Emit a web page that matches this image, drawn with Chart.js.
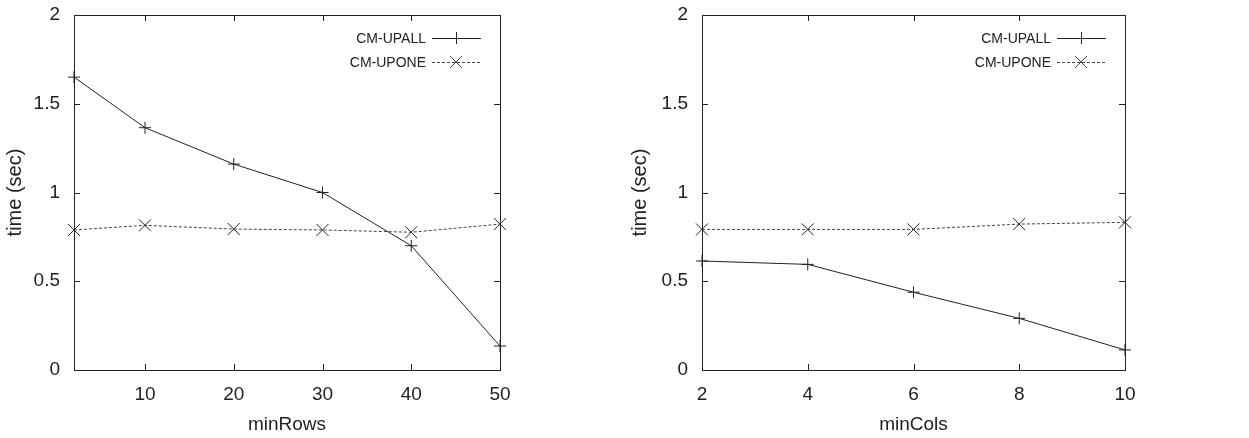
<!DOCTYPE html>
<html>
<head>
<meta charset="utf-8">
<script src="https://cdn.jsdelivr.net/npm/chart.js@4/dist/chart.umd.min.js"></script>
<style>
  body { margin: 0; background: #fff; }
  #wrap { position: relative; width: 1249px; height: 438px; }
  canvas { position: absolute; top: 0; }
</style>
</head>
<body>
<div id="wrap">
  <canvas id="rowsChart" width="620" height="438" style="left:0"></canvas>
  <canvas id="colsChart" width="624" height="438" style="left:625px"></canvas>
</div>
<script>
// data
const seriesNames = ["CM-UPALL", "CM-UPONE"];
const yTicks = [0, 0.5, 1, 1.5, 2];

const rowsX = [2, 10, 20, 30, 40, 50];
const rowsTicks = [10, 20, 30, 40, 50];
const rowsUpAll = [1.65, 1.365, 1.16, 1.0, 0.70, 0.135];
const rowsUpOne = [0.789, 0.815, 0.794, 0.789, 0.776, 0.822];

const colsX = [2, 4, 6, 8, 10];
const colsTicks = [2, 4, 6, 8, 10];
const colsUpAll = [0.614, 0.595, 0.438, 0.291, 0.113];
const colsUpOne = [0.792, 0.792, 0.792, 0.822, 0.832];

const FONT = "'Liberation Sans', Arial, sans-serif";
const INK = "#222";

function pts(xs, ys) {
  return xs.map((x, i) => ({ x: x, y: ys[i] }));
}

// gnuplot-ish frame with inward mirror ticks + legend inside top right
const framePlugin = {
  id: "frame",
  afterDraw(chart) {
    const ctx = chart.ctx;
    const a = chart.chartArea;
    const xs = chart.scales.x, ys = chart.scales.y;
    ctx.save();
    ctx.strokeStyle = INK;
    ctx.lineWidth = 1;
    ctx.strokeRect(Math.round(a.left) + 0.5, Math.round(a.top) + 0.5,
      Math.round(a.right - a.left), Math.round(a.bottom - a.top));
    ctx.beginPath();
    const tl = 6;
    ys.ticks.forEach(t => {
      const y = Math.round(ys.getPixelForValue(t.value)) + 0.5;
      ctx.moveTo(a.left, y); ctx.lineTo(a.left + tl, y);
      ctx.moveTo(a.right, y); ctx.lineTo(a.right - tl, y);
    });
    xs.ticks.forEach(t => {
      const x = Math.round(xs.getPixelForValue(t.value)) + 0.5;
      ctx.moveTo(x, a.bottom); ctx.lineTo(x, a.bottom - tl);
      ctx.moveTo(x, a.top); ctx.lineTo(x, a.top + tl);
    });
    ctx.stroke();

    // legend
    ctx.font = "14px " + FONT;
    ctx.textAlign = "right";
    ctx.textBaseline = "middle";
    chart.data.datasets.forEach((ds, i) => {
      const y = a.top + 23 + i * 24;
      ctx.fillStyle = INK;
      ctx.fillText(ds.label, a.right - 74, y + 1);
      ctx.strokeStyle = ds.borderColor;
      ctx.setLineDash(ds.borderDash || []);
      ctx.beginPath();
      ctx.moveTo(a.right - 68, y + 0.5);
      ctx.lineTo(a.right - 19, y + 0.5);
      ctx.stroke();
      ctx.setLineDash([]);
      const cx = a.right - 44, r = ds.pointRadius;
      ctx.beginPath();
      if (ds.pointStyle === "cross") {
        ctx.moveTo(cx - r, y + 0.5); ctx.lineTo(cx + r, y + 0.5);
        ctx.moveTo(cx + 0.5, y - r); ctx.lineTo(cx + 0.5, y + r);
      } else {
        const d = r * Math.SQRT1_2;
        ctx.moveTo(cx - d, y - d); ctx.lineTo(cx + d, y + d);
        ctx.moveTo(cx - d, y + d); ctx.lineTo(cx + d, y - d);
      }
      ctx.stroke();
    });
    ctx.restore();
  }
};

function makeChart(id, xs, xTicks, upAll, upOne, xTitle, rightPad, yWidth) {
  return new Chart(document.getElementById(id), {
    type: "line",
    data: {
      datasets: [
        {
          label: seriesNames[0],
          data: pts(xs, upAll),
          borderColor: "#222",
          borderWidth: 1,
          pointStyle: "cross",
          pointRadius: 6,
          pointBorderWidth: 1,
          pointBorderColor: "#222",
          fill: false,
          clip: false
        },
        {
          label: seriesNames[1],
          data: pts(xs, upOne),
          borderColor: "#444",
          borderWidth: 1,
          borderDash: [3, 2],
          pointStyle: "crossRot",
          pointRadius: 8.5,
          pointBorderWidth: 1,
          pointBorderColor: "#222",
          fill: false,
          clip: false
        }
      ]
    },
    options: {
      responsive: false,
      animation: false,
      layout: { padding: { left: 0, right: rightPad, top: 15, bottom: 0 } },
      plugins: { legend: { display: false }, tooltip: { enabled: false } },
      scales: {
        x: {
          type: "linear",
          min: xs[0],
          max: xs[xs.length - 1],
          afterBuildTicks: s => { s.ticks = xTicks.map(v => ({ value: v })); },
          afterFit: s => { s.height = 68; s.paddingLeft = 0; s.paddingRight = 0; },
          grid: { display: false, drawTicks: false },
          border: { display: false },
          ticks: { color: INK, padding: 13, maxRotation: 0, font: { family: FONT, size: 19 } },
          title: {
            display: true, text: xTitle, color: INK,
            font: { family: FONT, size: 19 }, padding: { top: 0, bottom: 2 }
          }
        },
        y: {
          min: 0,
          max: 2,
          afterBuildTicks: s => { s.ticks = yTicks.map(v => ({ value: v })); },
          afterFit: s => { s.width = yWidth; s.paddingTop = 0; s.paddingBottom = 0; },
          grid: { display: false, drawTicks: false },
          border: { display: false },
          ticks: {
            color: INK, padding: 14, font: { family: FONT, size: 19 },
            callback: v => String(v)
          },
          title: {
            display: true, text: "time (sec)", color: INK,
            font: { family: FONT, size: 20 }, padding: { top: 3, bottom: 0 }
          }
        }
      }
    },
    plugins: [framePlugin]
  });
}

makeChart("rowsChart", rowsX, rowsTicks, rowsUpAll, rowsUpOne, "minRows", 120, 74);
makeChart("colsChart", colsX, colsTicks, colsUpAll, colsUpOne, "minCols", 124, 77);
</script>
</body>
</html>
